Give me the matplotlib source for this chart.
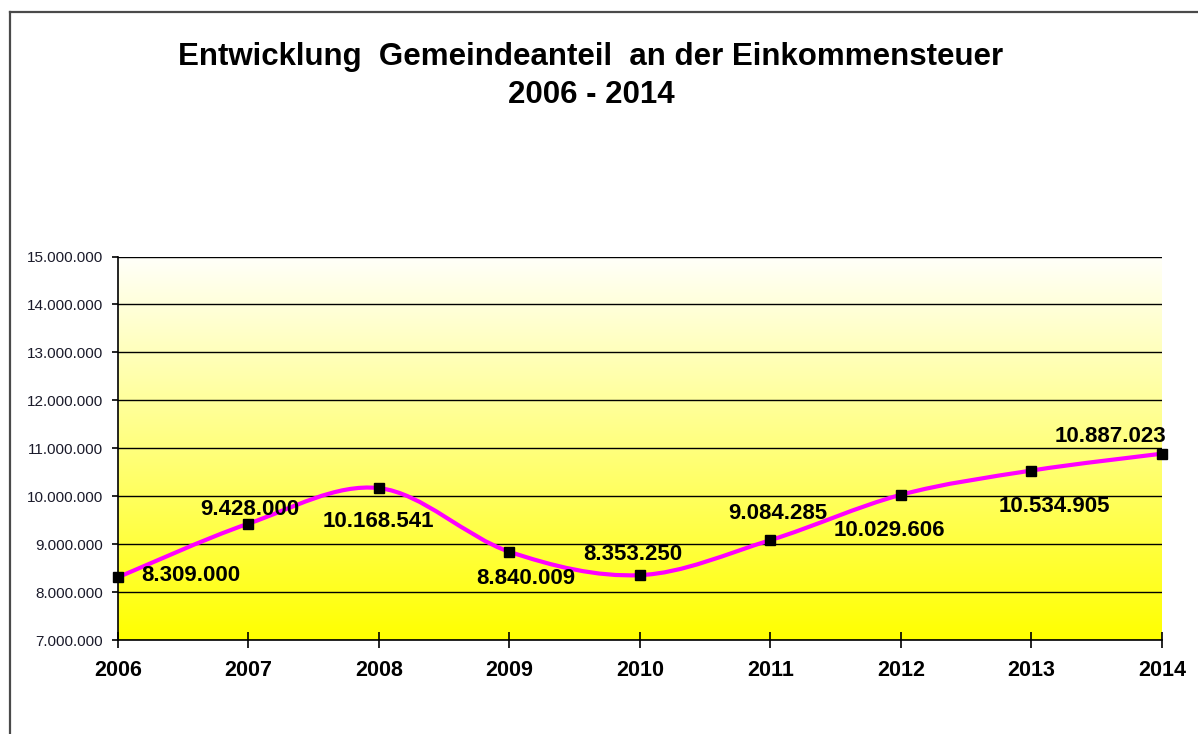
import numpy as np
import matplotlib
matplotlib.use("Agg")
import matplotlib.pyplot as plt
from matplotlib.path import Path
from matplotlib.patches import PathPatch
from matplotlib.lines import Line2D
from matplotlib.ticker import FuncFormatter, MultipleLocator

# ---- data ----
years = ["2006", "2007", "2008", "2009", "2010", "2011", "2012", "2013", "2014"]
values = [8309000, 9428000, 10168541, 8840009, 8353250, 9084285, 10029606, 10534905, 10887023]
value_labels = ["8.309.000", "9.428.000", "10.168.541", "8.840.009", "8.353.250",
                "9.084.285", "10.029.606", "10.534.905", "10.887.023"]
title_line1 = "Entwicklung  Gemeindeanteil  an der Einkommensteuer"
title_line2 = "2006 - 2014"

# label offsets in pixels (dx right, dy down) and alignment
label_offsets = [(23, -2, "left"), (1, -14, "center"), (-1, 33, "center"),
                 (16, 27, "center"), (-7, -21, "center"), (7, -27, "center"),
                 (-12, 36, "center"), (23, 36, "center"), (-52, -17, "center")]

plt.rcParams['font.family'] = ['Liberation Sans', 'DejaVu Sans']

W, H = 1198, 734
fig = plt.figure(figsize=(W / 100, H / 100), dpi=100)
fig.patch.set_facecolor("white")

left, right, top, bottom = 118, 1162, 256.5, 640
ax = fig.add_axes([left / W, 1 - bottom / H, (right - left) / W, (bottom - top) / H])

x = np.arange(len(years))
ymin, ymax = 7000000, 15000000
ax.set_xlim(0, len(years) - 1)
ax.set_ylim(ymin, ymax)

# gradient background
n = 256
t = np.linspace(0, 1, n)[:, None]  # 0 top -> 1 bottom
top_c = np.array([255, 255, 250]) / 255
bot_c = np.array([255, 255, 0]) / 255
grad = (1 - t)[:, :, None] * top_c + t[:, :, None] * bot_c
ax.imshow(grad, extent=[0, len(years) - 1, ymin, ymax], aspect="auto",
          origin="upper", zorder=0, interpolation="bilinear")
ax.set_facecolor("none")

# gridlines
ax.yaxis.set_major_locator(MultipleLocator(1000000))
ax.grid(axis="y", color="black", linewidth=1.0, zorder=1)
ax.set_axisbelow(False)
for gl in ax.get_ygridlines():
    gl.set_zorder(1)

# smoothed line (Excel-style bezier)
px = list(x)
py = list(values)
verts = [(px[0], py[0])]
codes = [Path.MOVETO]
N = len(px)
for i in range(N - 1):
    p0 = (px[max(i - 1, 0)], py[max(i - 1, 0)])
    p1 = (px[i], py[i])
    p2 = (px[i + 1], py[i + 1])
    p3 = (px[min(i + 2, N - 1)], py[min(i + 2, N - 1)])
    c1 = (p1[0] + (p2[0] - p0[0]) / 6, p1[1] + (p2[1] - p0[1]) / 6)
    c2 = (p2[0] - (p3[0] - p1[0]) / 6, p2[1] - (p3[1] - p1[1]) / 6)
    verts += [c1, c2, p2]
    codes += [Path.CURVE4] * 3
path = Path(verts, codes)
ax.add_patch(PathPatch(path, facecolor="none", edgecolor="#FF00FF", linewidth=3.0,
                       zorder=3, clip_on=False, capstyle="round", joinstyle="round"))
ax.plot(x, values, linestyle="none", marker="s", markersize=6.5, color="black",
        zorder=4, clip_on=False)

# data labels
for xi, yi, lab, (dx, dy, ha) in zip(x, values, value_labels, label_offsets):
    ax.annotate(lab, (xi, yi), xytext=(dx * 0.72, -dy * 0.72), textcoords="offset points",
                ha=ha, va="center", fontsize=16, fontweight="bold", color="black",
                zorder=5, annotation_clip=False)

# axes styling
for s in ["top", "right"]:
    ax.spines[s].set_visible(False)
ax.spines["left"].set_color("black")
ax.spines["bottom"].set_color("black")
ax.spines["left"].set_linewidth(1.2)
ax.spines["bottom"].set_linewidth(1.2)
ax.spines["left"].set_zorder(2)
ax.spines["bottom"].set_zorder(2)

ax.set_xticks(x)
ax.set_xticklabels(years, fontsize=15.5, fontweight="bold")
ax.tick_params(axis="x", direction="inout", length=11, width=1.2, pad=9, color="black")
ax.yaxis.set_major_formatter(FuncFormatter(lambda v, p: f"{int(round(v)):,}".replace(",", ".")))
ax.tick_params(axis="y", direction="out", length=4, width=1.2, pad=7, labelsize=11,
               color="black", labelcolor="#1a1a2a")

# title
cx = 591 / W
fig.text(cx, 1 - 65 / H, title_line1, ha="center", va="baseline", fontsize=22.5,
         fontweight="bold", color="black")
fig.text(cx, 1 - 103 / H, title_line2, ha="center", va="baseline", fontsize=22.5,
         fontweight="bold", color="black")

# outer frame (top and left edge)
fig.add_artist(Line2D([9.5 / W, 9.5 / W], [0, 1 - 11.5 / H], transform=fig.transFigure,
                      color="#4a4a4a", linewidth=1.6))
fig.add_artist(Line2D([9.5 / W, 1], [1 - 11.5 / H, 1 - 11.5 / H], transform=fig.transFigure,
                      color="#4a4a4a", linewidth=1.6))

fig.savefig("out.png", dpi=100)
